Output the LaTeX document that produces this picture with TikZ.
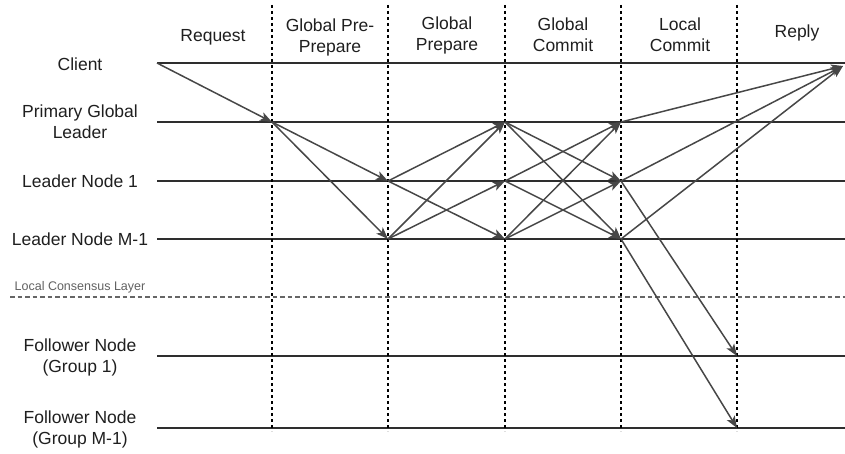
\documentclass[tikz,border=0pt]{standalone}
\usepackage{fontspec}
\setmainfont{Liberation Sans}
\usetikzlibrary{arrows.meta}

\begin{document}
\begin{tikzpicture}[x=1pt,y=-1pt,
        lane/.style={draw=black!82, line width=1.9pt},
        phase/.style={draw=black, line width=1.1pt, dash pattern=on 3pt off 3pt},
        layer/.style={draw=black!60, line width=1.6pt, dash pattern=on 4.5pt off 3pt},
        msg/.style={draw=black!72, line width=1.5pt, -{Stealth[length=12pt,width=9pt,inset=3pt]}},
        lbl/.style={font=\fontsize{17.5}{21}\selectfont, align=center, text=black!88},
        small/.style={font=\fontsize{12.5}{14}\selectfont, text=black!62}]
    \useasboundingbox (0,0) rectangle (845,454);

    % points on every lane, one per phase boundary
    \foreach \n/\y in {cl/63, pg/122, l1/181, lm/239, f1/356, fm/428} {
        \foreach \i/\x in {0/157, 1/272, 2/388, 3/505, 4/621, 5/737, 6/845}
            \coordinate (\n\i) at (\x,\y);
    }
    \coordinate (rep) at (843,66);

    % lanes
    \foreach \n in {cl, pg, l1, lm, f1, fm}
        \draw[lane] (\n0) -- (\n6);

    % phase boundaries
    \foreach \i/\x in {1/272, 2/388, 3/505, 4/621, 5/737} {
        \coordinate (top\i) at (\x,5);
        \coordinate (bot\i) at (\x,431);
        \draw[phase] (top\i) -- (bot\i);
    }

    % local consensus layer
    \coordinate (lay0) at (10,297);
    \coordinate (lay1) at (845,297);
    \draw[layer] (lay0) -- (lay1);
    \node[small] (laylbl) at (80,287) {Local Consensus Layer};

    % lane names
    \node[lbl] (clname) at (80,64) {Client};
    \node[lbl] (pgname) at (80,122) {Primary Global\\Leader};
    \node[lbl] (l1name) at (80,181) {Leader Node 1};
    \node[lbl] (lmname) at (80,239) {Leader Node M-1};
    \node[lbl] (f1name) at (80,357) {Follower Node\\(Group 1)};
    \node[lbl] (fmname) at (80,429) {Follower Node\\(Group M-1)};

    % phase names
    \node[lbl] (hreq) at (213,37) {Request};
    \node[lbl] (hpre) at (330,37) {Global Pre-\\Prepare};
    \node[lbl] (hprep) at (447,35) {Global\\Prepare};
    \node[lbl] (hcom) at (563,35) {Global\\Commit};
    \node[lbl] (hloc) at (680,35) {Local\\Commit};
    \node[lbl] (hrep) at (797,33) {Reply};

    % request
    \draw[msg] (cl0) -- (pg1);
    % global pre-prepare
    \foreach \b in {l1, lm}
        \draw[msg] (pg1) -- (\b2);
    % global prepare
    \foreach \a/\b in {l1/pg, l1/lm, lm/pg, lm/l1}
        \draw[msg] (\a2) -- (\b3);
    % global commit
    \foreach \a/\b in {pg/l1, pg/lm, l1/pg, l1/lm, lm/pg, lm/l1}
        \draw[msg] (\a3) -- (\b4);
    % local commit
    \draw[msg] (l14) -- (f15);
    \draw[msg] (lm4) -- (fm5);
    % reply
    \foreach \a in {pg, l1, lm}
        \draw[msg] (\a4) -- (rep);
\end{tikzpicture}
\end{document}
